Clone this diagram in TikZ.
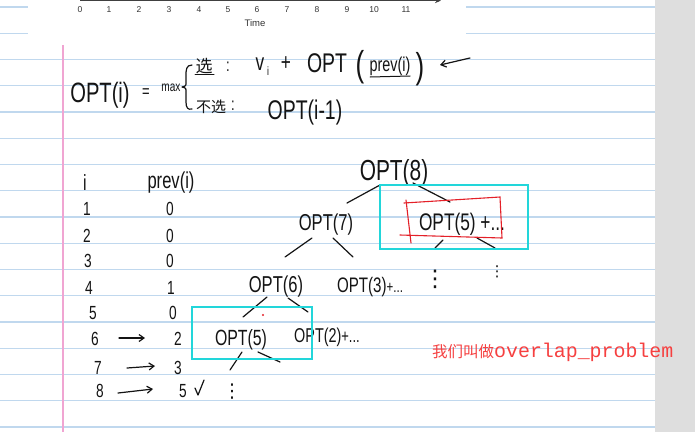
\documentclass[tikz,border=0pt]{standalone}
\usepackage{fontspec}
\usetikzlibrary{arrows.meta,calc}
\newfontfamily\hw[FakeStretch=0.72]{Liberation Sans}
\newfontfamily\axf{Liberation Sans}
\newfontfamily\djv{DejaVu Sans}
\newfontfamily\cjk{Noto Sans CJK SC}
\newfontfamily\monof{Liberation Mono}
\definecolor{rulecol}{RGB}{192,216,238}
\definecolor{margincol}{RGB}{240,165,210}
\definecolor{cyanbox}{RGB}{34,214,218}
\definecolor{redpen}{RGB}{228,32,40}
\definecolor{redtxt}{RGB}{246,64,64}
\definecolor{sidegray}{RGB}{222,222,222}
\definecolor{ink}{RGB}{20,20,20}
\newcommand\fsz[1]{\fontsize{#1}{#1}\selectfont}
\begin{document}
\begin{tikzpicture}[x=1pt,y=-1pt,
  txt/.style={inner sep=0pt, anchor=base, text=ink},
  ctxt/.style={inner sep=0pt, text=ink},
  pen/.style={draw=ink, line width=1.2pt, line cap=round, line join=round},
  harrow/.style={pen, -{Straight Barb[length=5pt,width=7pt]}},
  boxpen/.style={draw=cyanbox, line width=2.6pt},
]
\useasboundingbox (0,0) rectangle (695,432);
\fill[white] (0,0) rectangle (695,432);
\foreach \k in {0,...,16} \draw[rulecol, line width=1.4pt] (0,{7+26.25*\k}) -- (655,{7+26.25*\k});
\fill[sidegray] (655,0) rectangle (695,432);
\fill[white] (28,0) rectangle (466,43);
\draw[margincol, line width=1.2pt] (63,45) -- (63,432);
% time axis
\draw[black!75, line width=1.6pt, -{Stealth[length=6pt,width=5pt]}] (80,0.6) -- (441,0.6);
\foreach \lab/\xx in {0/80,1/109,2/139,3/169,4/199,5/228,6/257,7/287,8/317,9/347,10/374,11/406}
  \node[font=\axf\fsz{8.5}, text=black!80, inner sep=0pt] (tk\lab) at (\xx,10) {\lab};
\node[font=\axf\fsz{9.5}, text=black!80, inner sep=0pt] (timelab) at (255,23) {Time};
% formula
\node[txt, font=\hw\fsz{28}] (opti) at (100,102) {OPT(i)};
\node[ctxt, font=\hw\fsz{18}] (eq) at (146,93) {=};
\node[ctxt, font=\hw\fsz{14}] (max) at (171,88) {max};
\draw[pen] (192,65) .. controls (186,65) and (186,70) .. (186,76) -- (186,82) .. controls (186,86) .. (182,87) .. controls (186,88) .. (186,92) -- (186,102) .. controls (186,108) and (188,110) .. (192,109);
\node[txt, font=\cjk\fsz{17}] (xuan) at (204,72) {选};
\draw[pen, line width=1pt] (195,74) -- (214,74);
\node[ctxt, font=\hw\fsz{18}] (c1) at (228,67) {:};
\node[txt, font=\hw\fsz{24}] (vi) at (260,70) {v};
\node[txt, font=\hw\fsz{12}] (visub) at (268,75) {i};
\node[ctxt, font=\hw\fsz{24}] (plus) at (286,64) {+};
\node[txt, font=\hw\fsz{27}] (optA) at (327,72) {OPT};
\node[txt, font=\hw\fsz{36}] (lpar) at (360,76) {(};
\node[txt, font=\hw\fsz{20}] (previ) at (390,71) {prev(i)};
\draw[pen, line width=1pt] (370,77) -- (410,76);
\node[txt, font=\hw\fsz{36}] (rpar) at (420,78) {)};
\coordinate (atail) at (470,58);
\draw[harrow] (atail) -- ($(rpar.base)+(20,-13)$);
\node[txt, font=\cjk\fsz{15}] (buxuan) at (211,112) {不选};
\node[ctxt, font=\hw\fsz{18}] (c2) at (233,106) {:};
\node[txt, font=\hw\fsz{27}] (optim) at (305,119) {OPT(i-1)};
% table
\node[txt, font=\hw\fsz{22}] (hi) at (85,190) {i};
\node[txt, font=\hw\fsz{23}] (hp) at (171,188) {prev(i)};
\foreach \n/\xi/\xp/\v/\yb in {1/87/170/0/215, 2/87/170/0/242, 3/88/170/0/267, 4/89/171/1/294, 5/93/173/0/319, 6/95/178/2/345, 7/98/178/3/374, 8/100/183/5/397}{
  \node[txt, font=\hw\fsz{19}] (i\n) at (\xi,\yb) {\n};
  \node[txt, font=\hw\fsz{19}] (p\n) at (\xp,\yb) {\v};
}
\draw[harrow] ($(i6.base)+(24,-7)$) -- ($(p6.base)+(-33,-7)$);
\draw[harrow] ($(i7.base)+(29,-6)$) -- ($(p7.base)+(-23,-8)$);
\draw[harrow] ($(i8.base)+(18,-4)$) -- ($(p8.base)+(-30,-8)$);
\draw[pen] (195,388) -- (198,395) -- (204,380);
% tree
\node[txt, font=\hw\fsz{29}] (o8) at (394,180) {OPT(8)};
\node[txt, font=\hw\fsz{23}] (o7) at (326,230) {OPT(7)};
\node[txt, font=\hw\fsz{24}] (o5a) at (462,230) {OPT(5) +...};
\node[txt, font=\hw\fsz{23}] (o6) at (276,292) {OPT(6)};
\node[txt, font=\hw\fsz{21}] (o3) at (370,292) {OPT(3)\fsz{16}+...};
\node[txt, font=\hw\fsz{22}] (o5b) at (241,345) {OPT(5)};
\node[txt, font=\hw\fsz{20}] (o2) at (327,342) {OPT(2)\fsz{18}+...};
\node[txt, font=\djv\fsz{23}] (d1) at (435,286) {⋮};
\node[txt, font=\djv\fsz{15}] (d2) at (497,276) {⋮};
\node[txt, font=\djv\fsz{19}] (d3) at (232,397) {⋮};
\coordinate (c5) at (280,362);
\draw[pen] ($(o8.base)+(-14,5)$) -- ($(o7.base)+(21,-27)$);
\draw[pen] ($(o8.base)+(19,3)$) -- ($(o5a.base)+(-12,-28)$);
\draw[pen] ($(o7.base)+(-14,8)$) -- ($(o6.base)+(9,-35)$);
\draw[pen] ($(o7.base)+(7,8)$) -- ($(o3.base)+(-17,-35)$);
\draw[pen] ($(o5a.base)+(-19,10)$) -- ($(d1.base)+(0,-38)$);
\draw[pen] ($(o5a.base)+(15,8)$) -- ($(d2.base)+(-2,-28)$);
\draw[pen] ($(o6.base)+(-9,5)$) -- ($(o5b.base)+(2,-28)$);
\draw[pen] ($(o6.base)+(12,6)$) -- ($(o2.base)+(-19,-30)$);
\draw[pen] ($(o5b.base)+(1,7)$) -- ($(d3.base)+(-2,-27)$);
\draw[pen] ($(o5b.base)+(17,7)$) -- (c5);
% highlight boxes
\draw[boxpen] (380,185) rectangle (528,249);
\draw[boxpen] (192,307) rectangle (312,359);
\draw[redpen, line width=1.1pt, line cap=round] (404,203) -- (500,197) -- (502,238) -- (400,235);
\draw[redpen, line width=1.1pt, line cap=round] (406,200) -- (411,243);
\fill[redpen] (263,315) circle (1.1);
% note
\node[anchor=base west, inner sep=0pt, text=redtxt] (note) at (432,357) {\cjk\fsz{15.5}我们叫做\monof\fsz{19.9}overlap\_problem};
\end{tikzpicture}
\end{document}
